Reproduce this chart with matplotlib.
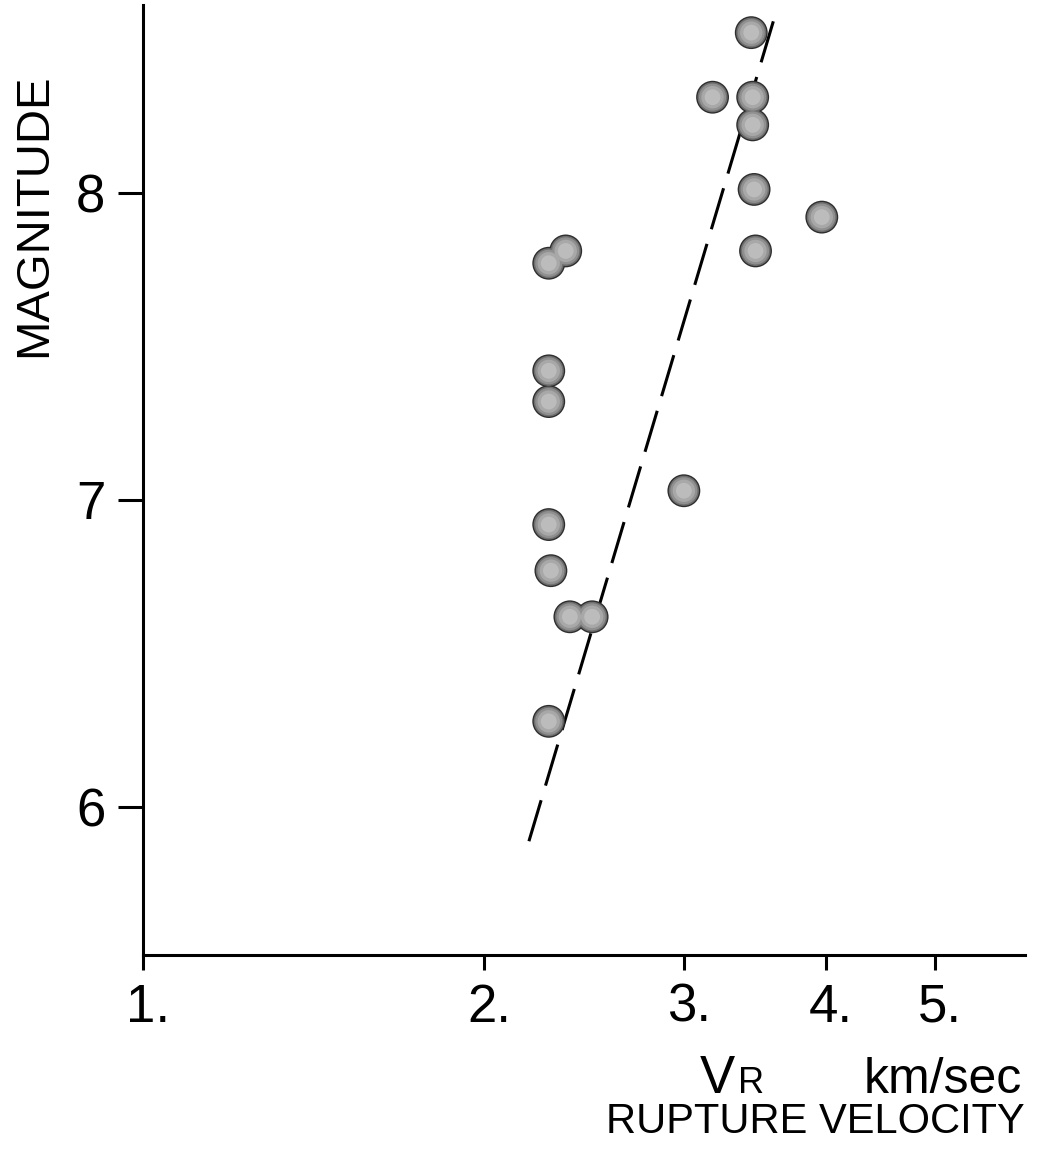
import matplotlib
matplotlib.use("Agg")
import matplotlib.pyplot as plt
import matplotlib.transforms as mtransforms

# Data
velocity = [3.44, 3.18, 3.45, 3.45, 3.46, 3.47, 3.97, 2.36, 2.28, 2.28, 2.28,
            3.00, 2.28, 2.29, 2.38, 2.49, 2.28]
magnitude = [8.52, 8.31, 8.31, 8.22, 8.01, 7.81, 7.92, 7.81, 7.77, 7.42, 7.32,
             7.03, 6.92, 6.77, 6.62, 6.62, 6.28]
fit_velocity = [2.19, 3.62]
fit_magnitude = [5.89, 8.59]
x_ticks = [1, 2, 3, 4, 5]
x_tick_labels = ["1.", "2.", "3.", "4.", "5."]
y_ticks = [6, 7, 8]
y_tick_labels = ["6", "7", "8"]

plt.rcParams['font.family'] = ['Liberation Sans', 'DejaVu Sans']

fig = plt.figure(figsize=(10.45, 11.57), dpi=100)
ax = fig.add_axes([0.1368, 0.1746, 0.981 - 0.1368, 0.9957 - 0.1746])

ax.set_xscale('log')
ax.set_xlim(1, 6.0)
ax.set_ylim(5.52, 8.61)

ax.plot(fit_velocity, fit_magnitude, color='black', lw=2.2,
        dashes=(14, 5), zorder=2)

layers = [(560, '#2e2e2e'), (470, '#6e6e6e'), (380, '#909090'),
          (260, '#a8a8a8'), (130, '#bcbcbc')]
for z, (size, col) in enumerate(layers):
    ax.scatter(velocity, magnitude, s=size, color=col, edgecolors='none', zorder=3 + z)

for s in ['top', 'right']:
    ax.spines[s].set_visible(False)
for s in ['left', 'bottom']:
    ax.spines[s].set_linewidth(2.2)

ax.set_xticks(x_ticks)
ax.set_xticklabels(x_tick_labels)
ax.xaxis.set_minor_locator(matplotlib.ticker.NullLocator())
ax.xaxis.set_minor_formatter(matplotlib.ticker.NullFormatter())
ax.set_yticks(y_ticks)
ax.set_yticklabels(y_tick_labels)

ax.tick_params(axis='x', direction='out', length=11, width=2.2, pad=9, labelsize=38)
ax.tick_params(axis='y', direction='out', length=18, width=2.2, pad=9, labelsize=38)

offset = mtransforms.ScaledTranslation(5 / 100, 0, fig.dpi_scale_trans)
for lab in ax.get_xticklabels():
    lab.set_transform(lab.get_transform() + offset)

fig.text(34 / 1045, 1 - 215 / 1157, "MAGNITUDE", rotation=90, ha='center', va='center',
         fontsize=34)
fig.text(700 / 1045, 1 - 1093 / 1157, "V", ha='left', va='baseline', fontsize=38)
fig.text(738 / 1045, 1 - 1093 / 1157, "R", ha='left', va='baseline', fontsize=26)
fig.text(1022 / 1045, 1 - 1093 / 1157, "km/sec", ha='right', va='baseline', fontsize=36)
fig.text(1025 / 1045, 1 - 1133 / 1157, "RUPTURE VELOCITY", ha='right', va='baseline',
         fontsize=30)

fig.savefig("out.png", dpi=100)
